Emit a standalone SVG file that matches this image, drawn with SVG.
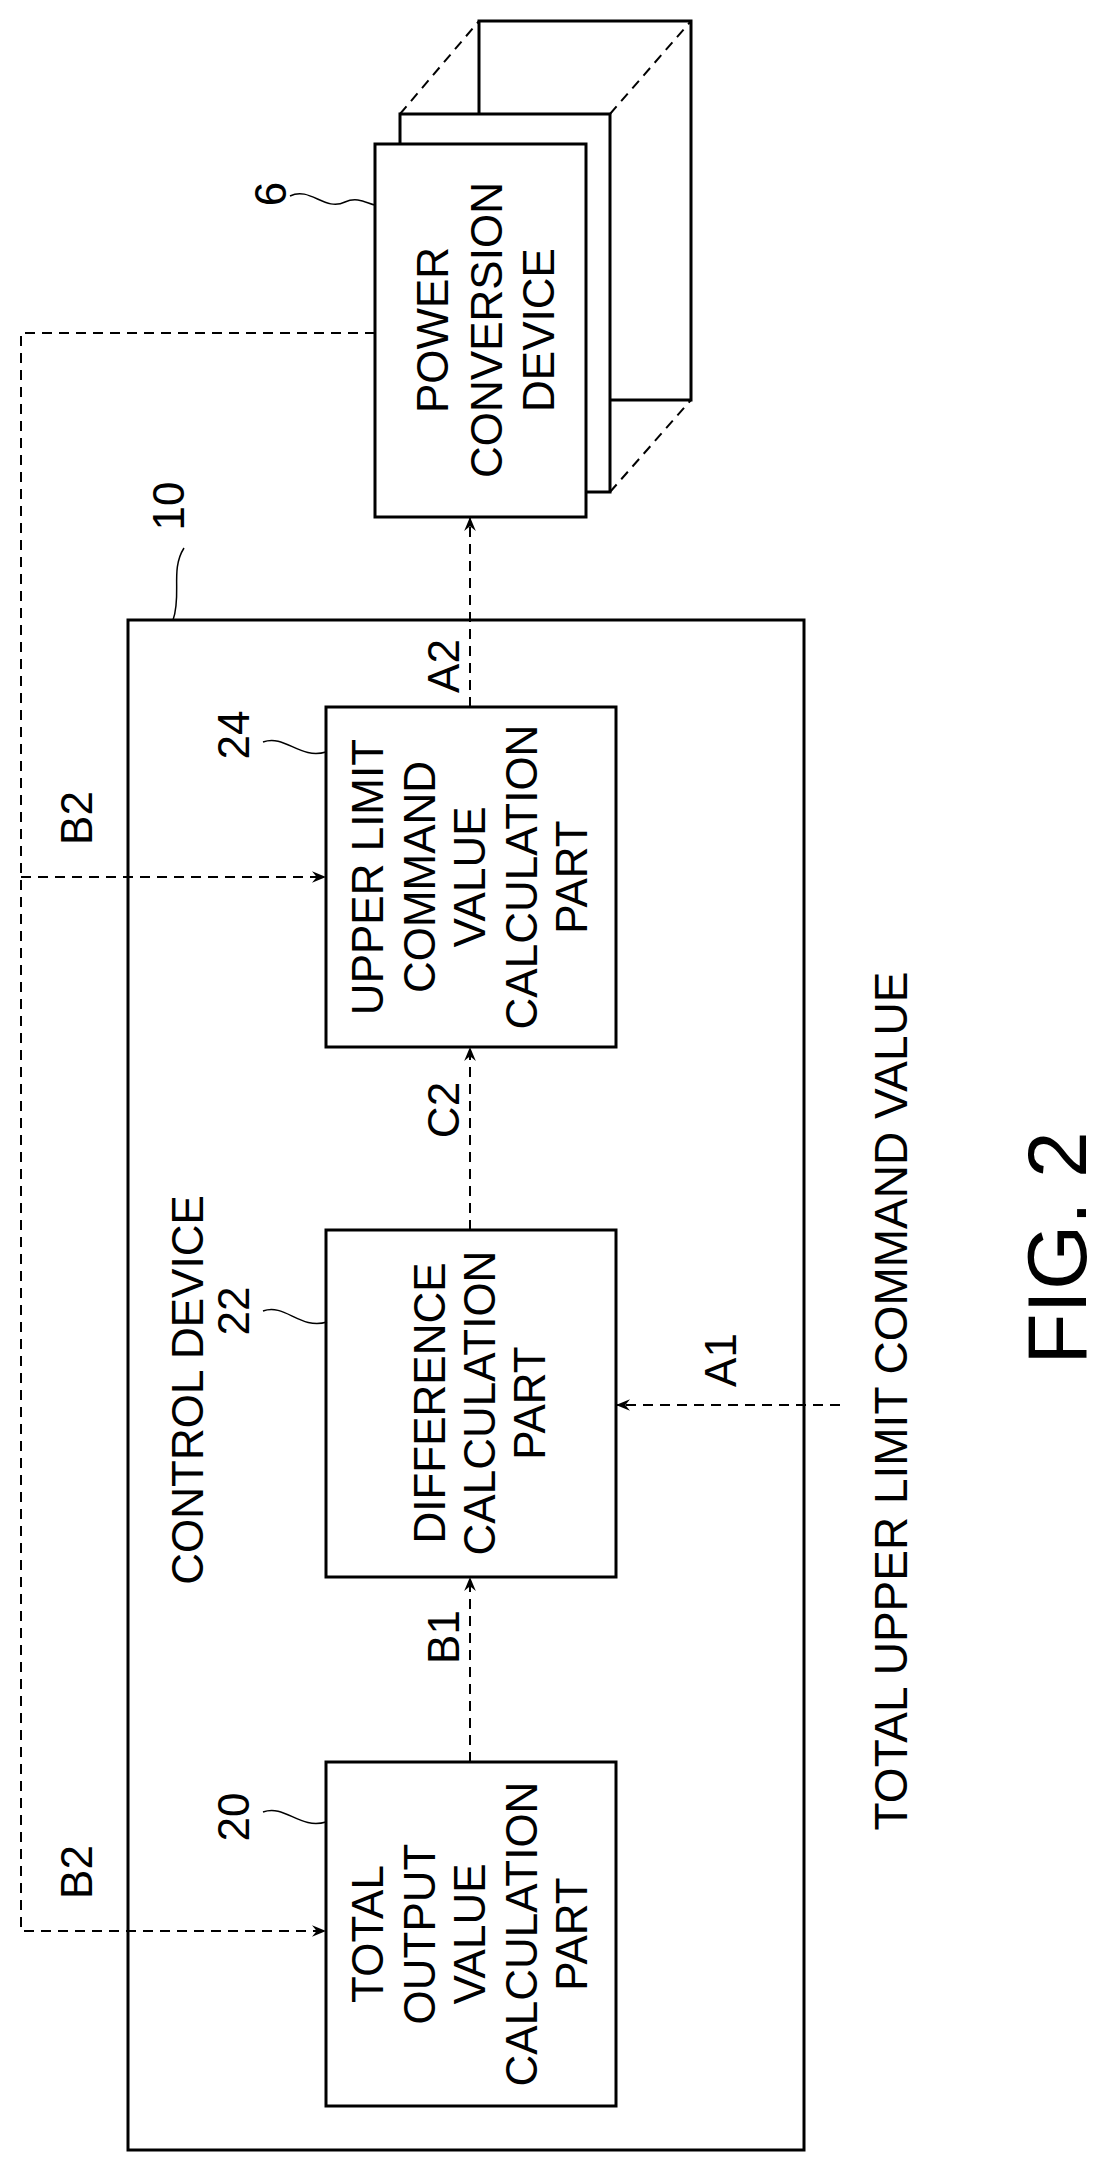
<svg xmlns="http://www.w3.org/2000/svg" width="1110" height="2164" viewBox="0 0 1110 2164">
<defs>
<style>
.b{fill:#fff;stroke:#000;stroke-width:3}
.l{fill:none;stroke:#000;stroke-width:1.5}
.d{fill:none;stroke:#000;stroke-width:2;stroke-dasharray:10,7}
text{font-family:"Liberation Sans",Arial,sans-serif;font-size:44px;fill:#000;text-anchor:middle}
</style>
<marker id="ar" viewBox="0 0 12 12" refX="12" refY="6" markerWidth="14" markerHeight="14" orient="auto" markerUnits="userSpaceOnUse"><path d="M0,1 L12,6 L0,11 L4,6 Z" fill="#000"/></marker>
</defs>
<rect width="1110" height="2164" fill="#fff"/>
<g id="power">
<rect class="b" x="479" y="21" width="212" height="379"/>
<rect class="b" x="400" y="114" width="210" height="378"/>
<path class="d" d="M400,114 L479,21 M610,114 L691,21 M610,492 L691,400"/>
<rect class="b" x="375" y="144" width="211" height="373"/>
<g transform="translate(480,330) rotate(-90)"><text y="-32">POWER</text><text y="22">CONVERSION</text><text y="74">DEVICE</text></g>
<text transform="translate(286,194) rotate(-90)">6</text>
<path class="l" d="M290,196 C310,186 325,212 345,202 C358,196 368,204 375,205"/>
</g>
<g id="control">
<rect class="b" x="128" y="620" width="676" height="1530"/>
<text transform="translate(203,1390) rotate(-90)">CONTROL DEVICE</text>
<text transform="translate(184,506) rotate(-90)">10</text>
<path class="l" d="M184,548 C170,570 182,595 173,620"/>
</g>
<g id="n24">
<rect class="b" x="326" y="707" width="290" height="340"/>
<g transform="translate(471,877) rotate(-90)"><text y="-88">UPPER LIMIT</text><text y="-36">COMMAND</text><text y="14">VALUE</text><text y="66">CALCULATION</text><text y="116">PART</text></g>
<text transform="translate(249,735) rotate(-90)">24</text>
<path class="l" d="M263,742 C285,734 300,760 326,752"/>
</g>
<g id="n22">
<rect class="b" x="326" y="1230" width="290" height="347"/>
<g transform="translate(471,1403) rotate(-90)"><text y="-26">DIFFERENCE</text><text y="24">CALCULATION</text><text y="74">PART</text></g>
<text transform="translate(249,1311) rotate(-90)">22</text>
<path class="l" d="M263,1311 C285,1303 300,1330 327,1322"/>
</g>
<g id="n20">
<rect class="b" x="326" y="1762" width="290" height="344"/>
<g transform="translate(471,1934) rotate(-90)"><text y="-88">TOTAL</text><text y="-36">OUTPUT</text><text y="14">VALUE</text><text y="66">CALCULATION</text><text y="116">PART</text></g>
<text transform="translate(249,1817) rotate(-90)">20</text>
<path class="l" d="M263,1812 C285,1804 300,1830 326,1822"/>
</g>
<g id="connectors">
<path class="d" d="M375,333 L21,333 L21,1931 L326,1931" marker-end="url(#ar)"/>
<path class="d" d="M21,877 L326,877" marker-end="url(#ar)"/>
<path class="d" d="M470,707 L470,517" marker-end="url(#ar)"/>
<path class="d" d="M470,1230 L470,1047" marker-end="url(#ar)"/>
<path class="d" d="M470,1762 L470,1577" marker-end="url(#ar)"/>
<path class="d" d="M840,1405 L616,1405" marker-end="url(#ar)"/>
<text transform="translate(92,818) rotate(-90)">B2</text>
<text transform="translate(92,1872) rotate(-90)">B2</text>
<text transform="translate(459,666) rotate(-90)">A2</text>
<text transform="translate(459,1110) rotate(-90)">C2</text>
<text transform="translate(459,1637) rotate(-90)">B1</text>
<text transform="translate(736,1360) rotate(-90)">A1</text>
</g>
<text transform="translate(907,1401) rotate(-90)" style="font-size:46px">TOTAL UPPER LIMIT COMMAND VALUE</text>
<text transform="translate(1086,1248) rotate(-90)" style="font-size:84px">FIG. 2</text>
</svg>
